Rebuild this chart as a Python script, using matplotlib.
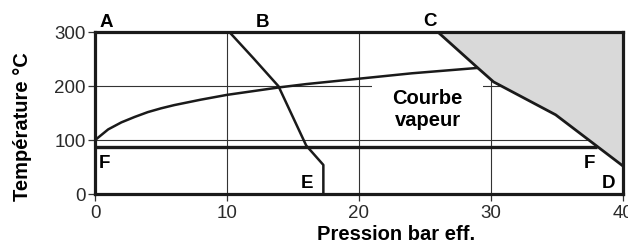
import matplotlib
matplotlib.use("Agg")
import matplotlib.pyplot as plt
from matplotlib.patches import Polygon, Rectangle

plt.rcParams['font.family'] = ['Liberation Sans', 'DejaVu Sans']

# Saturated steam curve (gauge pressure bar, temperature °C)
steam_p = [0, 1, 2, 3, 4, 5, 6, 7, 8, 10, 12, 14, 16, 18, 20, 22, 24, 26, 29]
steam_t = [100, 120, 133, 143, 152, 159, 165, 170, 175, 184, 191, 198, 204, 209, 214, 219, 224, 228, 234]

# Limit line B-E
be_p = [10.2, 12.0, 13.9, 16.0, 17.3, 17.3]
be_t = [300, 252, 200, 90, 54, 0]

# Limit line C-D
cd_p = [26.0, 29.0, 30.2, 34.9, 40.0]
cd_t = [300, 234, 208, 147, 52]

# Horizontal line F-F
ff_p = [0, 38]
ff_t = [88, 88]

x_ticks = [0, 10, 20, 30, 40]
y_ticks = [0, 100, 200, 300]

fig = plt.figure(figsize=(6.28, 2.45), dpi=100)
ax = fig.add_axes([0.1513, 0.208, 0.8407, 0.660])
ax.set_xlim(0, 40)
ax.set_ylim(0, 300)

# grid
for x in x_ticks[1:-1]:
    ax.plot([x, x], [0, 300], color='#333333', lw=0.8, zorder=1)
for y in y_ticks[1:-1]:
    ax.plot([0, 40], [y, y], color='#333333', lw=0.8, zorder=1)

# white box behind label
ax.add_patch(Rectangle((21, 104), 8.4, 102, facecolor='white', edgecolor='none', zorder=2))

# gray region
poly = list(zip(cd_p, cd_t)) + [(40, 300)]
ax.add_patch(Polygon(poly, closed=True, facecolor='#d9d9d9', edgecolor='none', zorder=2))

lc = '#1a1a1a'
ax.plot(steam_p, steam_t, color=lc, lw=1.8, zorder=3, solid_capstyle='butt')
ax.plot(be_p, be_t, color=lc, lw=1.8, zorder=3)
ax.plot(cd_p, cd_t, color=lc, lw=2.0, zorder=3)
ax.plot(ff_p, ff_t, color=lc, lw=2.4, zorder=3, solid_capstyle='butt')

ax.text(25.2, 157, "Courbe\nvapeur", ha='center', va='center', fontsize=14.5,
        fontweight='bold', linespacing=1.15, zorder=4)

lab = dict(fontsize=13.5, fontweight='bold', ha='center', va='baseline', zorder=4)
ax.text(0.88, 309, "A", clip_on=False, **lab)
ax.text(12.7, 310, "B", clip_on=False, **lab)
ax.text(25.4, 311, "C", clip_on=False, **lab)
ax.text(38.9, 10.5, "D", **lab)
ax.text(16.05, 10.5, "E", **lab)
ax.text(0.68, 47.7, "F", **lab)
ax.text(37.45, 47.7, "F", **lab)

for s in ax.spines.values():
    s.set_linewidth(2.3)
    s.set_color(lc)
    s.set_zorder(5)

ax.set_xticks(x_ticks)
ax.set_yticks(y_ticks)
ax.tick_params(axis='both', direction='out', length=5, width=0.9, color='#333333',
               labelsize=13.5, labelcolor='#2a2a2a')
ax.tick_params(axis='x', pad=3)
ax.tick_params(axis='y', pad=1.5)

ax.set_xlabel("Pression bar eff.", fontsize=14.5, fontweight='bold')
ax.set_ylabel("Température °C", fontsize=14.5, fontweight='bold')
ax.xaxis.label.set_va('baseline')
ax.xaxis.set_label_coords(0.57, -0.283)
ax.yaxis.label.set_va('center')
ax.yaxis.set_label_coords(-0.138, 0.42)

fig.savefig("out.png", dpi=100)
